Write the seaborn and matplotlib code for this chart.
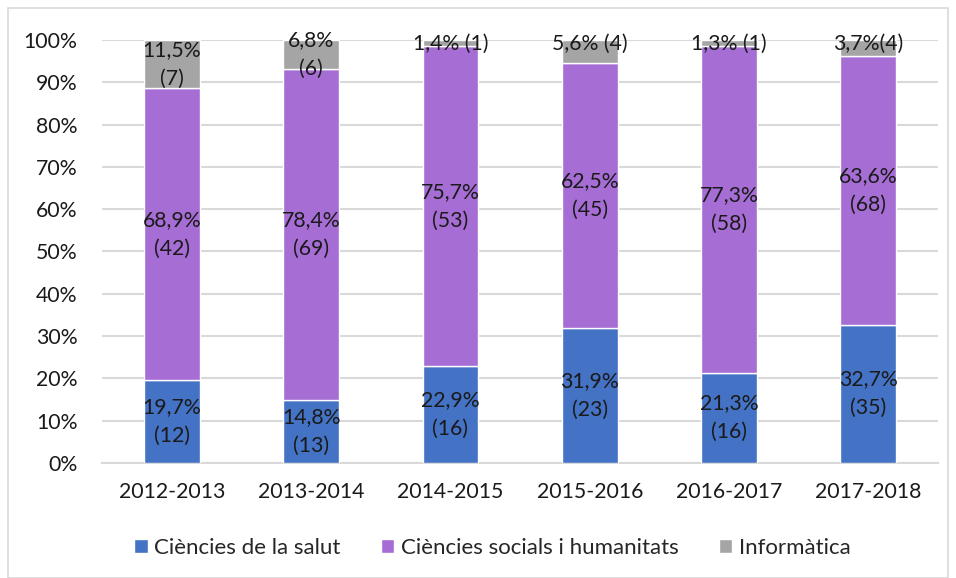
import numpy as np
import pandas as pd
import seaborn as sns
import matplotlib.pyplot as plt
from matplotlib.patches import Rectangle, Patch

# data
courses = ['2012-2013', '2013-2014', '2014-2015', '2015-2016', '2016-2017', '2017-2018']
areas = ['Ciències de la salut', 'Ciències socials i humanitats', 'Informàtica']
salut = [12, 13, 16, 23, 16, 35]
socials = [42, 69, 53, 45, 58, 68]
informatica = [7, 6, 1, 4, 1, 4]
colors = ['#4472C4', '#A66DD4', '#A5A5A5']

sns.set_style("white")
plt.rcParams['font.family'] = ['Lato', 'DejaVu Sans']

counts = np.array([salut, socials, informatica], dtype=float)
shares = counts / counts.sum(axis=0) * 100

fig = plt.figure(figsize=(9.56, 5.78), dpi=100)
ax = fig.add_axes([0.107, 0.199, 0.874, 0.732])
fig.patches.append(Rectangle((8 / 956, 0), 940 / 956, 570 / 578, transform=fig.transFigure,
                             fill=False, edgecolor='#D9D9D9', linewidth=1.2))

bottom = np.zeros(len(courses))
for i, area in enumerate(areas):
    df = pd.DataFrame({'curs': courses, 'pct': shares[i]})
    sns.barplot(data=df, x='curs', y='pct', color=colors[i], width=0.4,
                bottom=bottom, ax=ax, saturation=1, zorder=3)
    for j in range(len(courses)):
        pct = f"{shares[i][j]:.1f}".replace('.', ',') + '%'
        n = f"({int(counts[i][j])})"
        if i < 2 or j < 2:
            txt = pct + '\n' + n
        elif j == 5:
            txt = pct + n
        else:
            txt = pct + ' ' + n
        y = bottom[j] + shares[i][j] / 2
        if i == 2 and j >= 2:
            y = 99.0
        ax.text(j, y, txt, ha='center', va='center', fontsize=15.3,
                color='#1a1a1a', linespacing=1.55, zorder=4)
    bottom = bottom + shares[i]

ax.set_ylim(0, 100)
ax.set_xlim(-0.5, 5.5)
ax.set_yticks(np.arange(0, 101, 10))
ax.set_yticklabels([f"{t}%" for t in range(0, 101, 10)])
ax.yaxis.grid(True, color='#D9D9D9', linewidth=1.5, zorder=0)
ax.set_axisbelow(True)
for s in ['top', 'right', 'left']:
    ax.spines[s].set_visible(False)
ax.spines['bottom'].set_color('#D9D9D9')
ax.spines['bottom'].set_linewidth(1.5)
ax.tick_params(axis='both', length=0, labelsize=15.3, colors='#1a1a1a')
ax.tick_params(axis='y', pad=18)
ax.tick_params(axis='x', pad=14)
ax.set_xlabel('')
ax.set_ylabel('')

handles = [Patch(facecolor=c, label=a) for c, a in zip(colors, areas)]
fig.legend(handles=handles, loc='center', bbox_to_anchor=(0.515, 0.052), ncol=3,
           frameon=False, fontsize=16, handlelength=0.6, handleheight=0.6,
           handletextpad=0.3, columnspacing=1.8)

fig.savefig('out.png', dpi=100)
